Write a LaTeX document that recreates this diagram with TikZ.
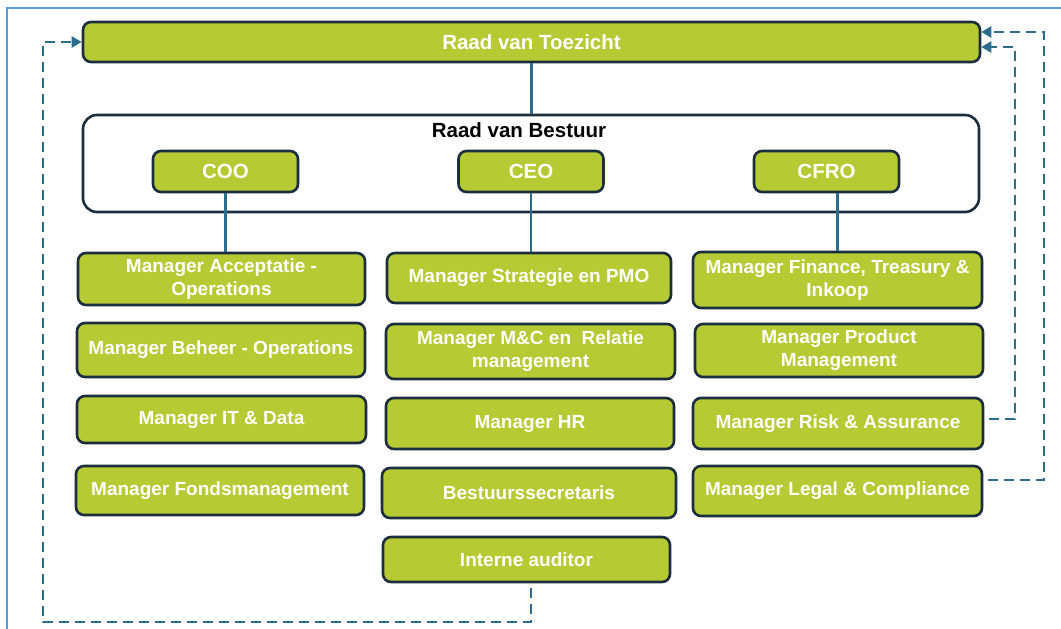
\documentclass[tikz,border=0pt]{standalone}
\usepackage{fontspec}
\setmainfont{Liberation Sans}
\usetikzlibrary{arrows.meta,calc}
\definecolor{boxgreen}{RGB}{182,202,51}
\definecolor{boxborder}{RGB}{28,46,62}
\definecolor{linkblue}{RGB}{44,108,140}
\definecolor{framblue}{RGB}{91,155,213}
\tikzset{
  gbox/.style={draw=boxborder, line width=2.6pt, fill=boxgreen, rounded corners=8pt,
    text=white, font=\bfseries\fontsize{19}{23}\selectfont, align=center, inner sep=0pt},
  topbox/.style={gbox, font=\bfseries\fontsize{20.5}{24}\selectfont},
  solidlink/.style={draw=linkblue, line width=2.2pt},
  dashlink/.style={draw=linkblue, line width=2.8pt, dash pattern=on 10pt off 6pt,
    -{Triangle[length=10pt,width=11pt]}, shorten <=5pt},
}
\begin{document}
\begin{tikzpicture}[x=1pt,y=-1pt]
\useasboundingbox (0,0) rectangle (1061,629);
\begin{scope}
\clip (0,0) rectangle (1061,629);
\draw[framblue, line width=1.8pt] (7,8) rectangle (1090,660);
\end{scope}
% Raad van Bestuur
\node[draw=boxborder, line width=2.6pt, fill=white, rounded corners=14pt,
  minimum width=896pt, minimum height=97pt, inner sep=0pt] (rvb) at (531,163.5) {};
\node[font=\bfseries\fontsize{20.5}{24}\selectfont, text=black, inner sep=0pt] (rvblabel) at (519,130) {Raad van Bestuur};
% top
\node[topbox, minimum width=897pt, minimum height=40pt] (rvt) at (531.5,42) {Raad van Toezicht};
\node[topbox, minimum width=145pt, minimum height=41pt] (coo) at (225.5,171.5) {COO};
\node[topbox, minimum width=145pt, minimum height=41pt] (ceo) at (531,171.5) {CEO};
\node[topbox, minimum width=145pt, minimum height=41pt] (cfro) at (826.5,171.5) {CFRO};
% column 1
\node[gbox, minimum width=287pt, minimum height=52pt] (acc) at (221.5,279) {Manager Acceptatie -\\Operations};
\node[gbox, minimum width=288pt, minimum height=54pt] (beh) at (221,350) {Manager Beheer - Operations};
\node[gbox, minimum width=289pt, minimum height=47pt] (itd) at (221.5,419.5) {Manager IT \& Data};
\node[gbox, minimum width=288pt, minimum height=49pt] (fon) at (220,490.5) {Manager Fondsmanagement};
% column 2
\node[gbox, minimum width=284pt, minimum height=50pt] (str) at (529,278) {Manager Strategie en PMO};
\node[gbox, minimum width=289pt, minimum height=55pt] (mc) at (530.5,351.5) {Manager M\&C en\ \ Relatie\\management};
\node[gbox, minimum width=288pt, minimum height=51pt] (hr) at (530,423.5) {Manager HR};
\node[gbox, minimum width=294pt, minimum height=50pt] (bes) at (529,493) {Bestuurssecretaris};
\node[gbox, minimum width=287pt, minimum height=45pt] (ia) at (526.5,559.5) {Interne auditor};
% column 3
\node[gbox, minimum width=289pt, minimum height=56pt] (fin) at (837.5,280) {Manager Finance, Treasury \&\\Inkoop};
\node[gbox, minimum width=288pt, minimum height=53pt] (pm) at (839,350.5) {Manager Product\\Management};
\node[gbox, minimum width=290pt, minimum height=51pt] (risk) at (838,423.5) {Manager Risk \& Assurance};
\node[gbox, minimum width=289pt, minimum height=50pt] (leg) at (837.5,491) {Manager Legal \& Compliance};
% solid connectors
\draw[solidlink] (rvt.south) -- (rvt.south |- rvb.north);
\draw[solidlink] (coo.south) -- (coo.south |- acc.north);
\draw[solidlink] (ceo.south) -- (ceo.south |- str.north);
\draw[solidlink] (fin.north |- cfro.south) -- (fin.north);
% dashed connectors
\coordinate (lowleft) at (43,622);
\draw[dashlink] ([xshift=4.5pt]ia.south) |- (lowleft) |- (rvt.west);
\coordinate (rcorner1) at (1015,47);
\coordinate (rcorner2) at (1044,32);
\draw[dashlink] ([yshift=4.5pt]risk.east) -| (rcorner1) -- (rcorner1 -| rvt.east);
\draw[dashlink] ([yshift=11pt]leg.east) -| (rcorner2) -- (rcorner2 -| rvt.east);
\end{tikzpicture}
\end{document}
